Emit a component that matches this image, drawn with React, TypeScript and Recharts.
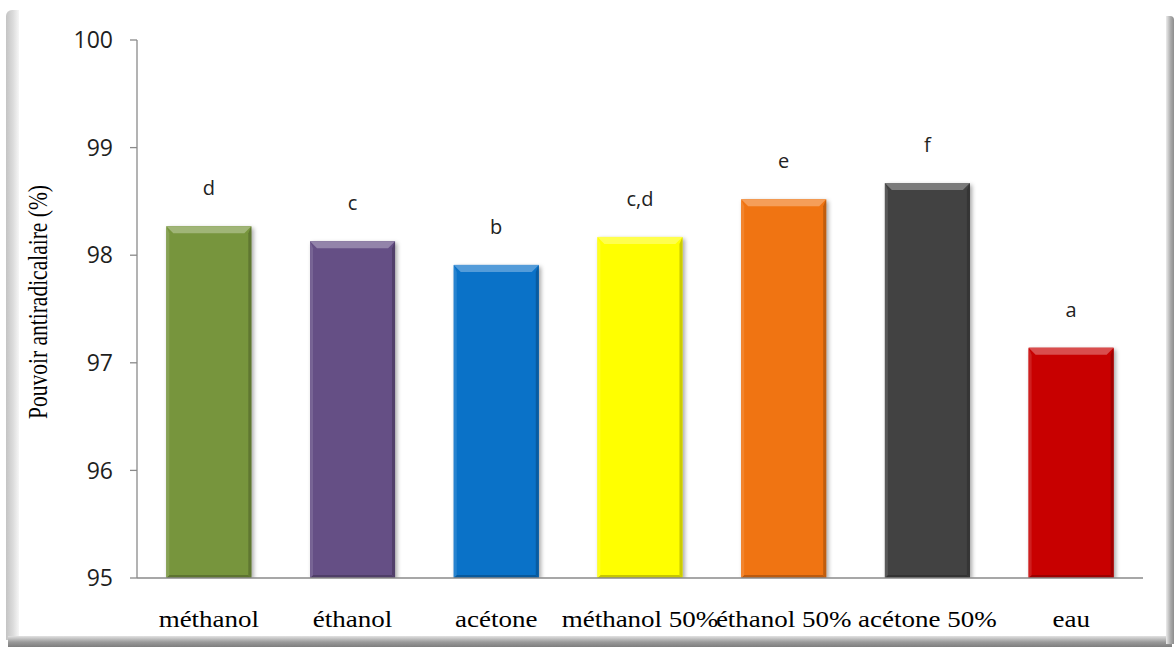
import React from 'react';
import { BarChart, Bar, XAxis, YAxis, Cell, LabelList } from 'recharts';

// Extraction solvents and their antiradical power (%)
const solvents = ['méthanol', 'éthanol', 'acétone', 'méthanol 50%', 'éthanol 50%', 'acétone 50%', 'eau'];
const activity = [98.27, 98.13, 97.91, 98.17, 98.52, 98.67, 97.14];
// Statistical group letters shown above each bar
const groups = ['d', 'c', 'b', 'c,d', 'e', 'f', 'a'];
const barColors = ['#77953d', '#654f85', '#0a72c8', '#ffff00', '#f07412', '#424242', '#c80000'];
const yTicks = [95, 96, 97, 98, 99, 100];

const data = solvents.map((solvent, i) => ({ solvent, value: activity[i], group: groups[i] }));

// Mix a hex colour toward white (amt > 0) or black (amt < 0)
function shade(hex: string, amt: number): string {
  const n = parseInt(hex.slice(1), 16);
  const ch = [(n >> 16) & 255, (n >> 8) & 255, n & 255].map((c) =>
    Math.round(amt >= 0 ? c + (255 - c) * amt : c * (1 + amt))
  );
  return '#' + ch.map((c) => c.toString(16).padStart(2, '0')).join('');
}

// Bar with a bevelled top and shaded edges
const BevelBar = (props: any) => {
  const { x, y, width: w, height: h, fill } = props;
  if (!h || h <= 0) return null;
  const b = 7;
  const s = 3;
  return (
    <g style={{ filter: 'drop-shadow(2px 2px 2px rgba(0,0,0,0.35))' }}>
      <rect x={x} y={y} width={w} height={h} fill={fill} />
      <polygon
        points={`${x},${y + h} ${x + s},${y + h - s} ${x + w - s},${y + h - s} ${x + w},${y + h}`}
        fill={shade(fill, -0.22)}
      />
      <polygon
        points={`${x},${y} ${x + s},${y + b} ${x + s},${y + h - s} ${x},${y + h}`}
        fill={shade(fill, 0.12)}
      />
      <polygon
        points={`${x + w},${y} ${x + w - s},${y + b} ${x + w - s},${y + h - s} ${x + w},${y + h}`}
        fill={shade(fill, -0.2)}
      />
      <polygon
        points={`${x},${y} ${x + w},${y} ${x + w - b},${y + b} ${x + b},${y + b}`}
        fill={shade(fill, 0.3)}
      />
    </g>
  );
};

const SolventTick = (props: any) => {
  const { x, y, payload } = props;
  return (
    <g transform={`translate(${x},${y})`}>
      <text
        transform="scale(1.2,1)"
        textAnchor="middle"
        dy="0.71em"
        fontFamily="'Liberation Serif', 'Times New Roman', serif"
        fontSize={22.5}
        fill="#000"
      >
        {payload.value}
      </text>
    </g>
  );
};

const YTitle = (props: any) => {
  const vb = props.viewBox || { x: 10, y: 40, width: 127, height: 538 };
  const cx = vb.x + 37;
  const cy = vb.y + vb.height / 2 - 7;
  return (
    <g transform={`translate(${cx},${cy}) scale(1.3,1) rotate(-90)`}>
      <text
        x={0}
        y={0}
        textAnchor="middle"
        fontFamily="'Liberation Serif', 'Times New Roman', serif"
        fontSize={21.5}
        fill="#000"
      >
        Pouvoir antiradicalaire (%)
      </text>
    </g>
  );
};

export default function App() {
  return (
    <div style={{ position: 'absolute', left: 0, top: 0, width: 1175, height: 647, background: '#fff', overflow: 'hidden' }}>
      {/* frame edges */}
      <div
        style={{
          position: 'absolute', left: 6, top: 10, width: 13, height: 630,
          background: 'linear-gradient(to right, #c4c4c4, #dcdcdc 55%, #f6f6f6)',
          borderTopLeftRadius: 6,
        }}
      />
      <div
        style={{
          position: 'absolute', left: 8, top: 636, width: 1164, height: 11,
          background: 'linear-gradient(to bottom, #e2e2e2, #9a9a9a 55%, #7e7e7e)',
        }}
      />
      <div
        style={{
          position: 'absolute', left: 1166, top: 16, width: 8, height: 628,
          background: 'linear-gradient(to right, #ececec, #a8a8a8 60%, #8e8e8e)',
          borderTopRightRadius: 4,
        }}
      />
      <div style={{ position: 'absolute', left: 0, top: 0 }}>
        <BarChart
          width={1175}
          height={647}
          data={data}
          margin={{ top: 40, right: 32, left: 10, bottom: 14 }}
          barCategoryGap="20.4%"
        >
          <XAxis
            dataKey="solvent"
            height={55}
            tickLine={false}
            tickSize={0}
            tickMargin={33}
            axisLine={{ stroke: '#8a8a8a', strokeWidth: 1.3 }}
            tick={<SolventTick />}
            interval={0}
          />
          <YAxis
            width={127}
            domain={[95, 100]}
            ticks={yTicks}
            allowDataOverflow
            tickSize={7}
            tickMargin={17}
            axisLine={{ stroke: '#8a8a8a', strokeWidth: 1.3 }}
            tickLine={{ stroke: '#8a8a8a', strokeWidth: 1.3 }}
            tick={{ fill: '#1e1e1e', fontSize: 23, fontFamily: "'Open Sans', sans-serif" }}
            label={{ content: <YTitle /> }}
          />
          <Bar dataKey="value" isAnimationActive={false} shape={<BevelBar />}>
            {data.map((d, i) => (
              <Cell key={d.solvent} fill={barColors[i]} />
            ))}
            <LabelList
              dataKey="group"
              position="top"
              offset={31}
              style={{ fontFamily: "'Open Sans', sans-serif", fontSize: 20, fill: '#222' }}
            />
          </Bar>
        </BarChart>
      </div>
    </div>
  );
}
